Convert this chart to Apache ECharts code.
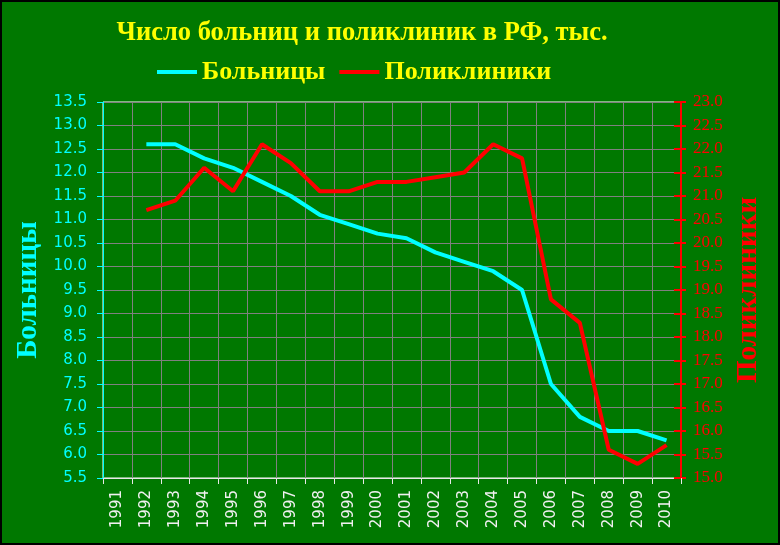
<!DOCTYPE html>
<html>
<head>
<meta charset="utf-8">
<script src="https://cdn.jsdelivr.net/npm/echarts@6/dist/echarts.min.js"></script>
<style>
html,body{margin:0;padding:0;background:#000;}
#c{position:absolute;left:0;top:0;width:780px;height:545px;box-sizing:border-box;border:2px solid #000;background:#007800;}
</style>
</head>
<body>
<div id="c"></div>
<script>
const years = ['1991','1992','1993','1994','1995','1996','1997','1998','1999','2000','2001','2002','2003','2004','2005','2006','2007','2008','2009','2010'];
const hospitals = [null,12.6,12.6,12.3,12.1,11.8,11.5,11.1,10.9,10.7,10.6,10.3,10.1,9.9,9.5,7.5,6.8,6.5,6.5,6.3];
const clinics = [null,20.7,20.9,21.6,21.1,22.1,21.7,21.1,21.1,21.3,21.3,21.4,21.5,22.1,21.8,18.8,18.3,15.6,15.3,15.7];
const titleText = 'Число больниц и поликлиник в РФ, тыс.';
const seriesNames = ['Больницы','Поликлиники'];

const chart = echarts.init(document.getElementById('c'));
chart.setOption({
  backgroundColor: '#007800',
  animation: false,
  title: {
    text: titleText,
    left: 355, top: 13, textAlign: 'center',
    textStyle: {color: '#ffff00', fontFamily: 'Liberation Serif', fontWeight: 'bold', fontSize: 26.5}
  },
  legend: {
    data: seriesNames,
    left: 150, top: 52,
    itemWidth: 40, itemHeight: 4, itemGap: 14, icon: 'rect',
    textStyle: {color: '#ffff00', fontFamily: 'Liberation Serif', fontWeight: 'bold', fontSize: 26}
  },
  grid: {left: 101, right: 97, top: 100, bottom: 65, show: true, borderColor: '#ffffff', borderWidth: 1, backgroundColor: 'transparent'},
  xAxis: {
    type: 'category', data: years, boundaryGap: true,
    axisLine: {lineStyle: {color: '#e8e8e8', width: 1}},
    axisTick: {show: true, length: 6, lineStyle: {color: '#e8e8e8'}},
    splitLine: {show: true, lineStyle: {color: '#808080', width: 1}},
    axisLabel: {rotate: 90, margin: 12, color: '#f0f0f0', fontFamily: 'DejaVu Sans', fontSize: 15, interval: 0}
  },
  yAxis: [
    {
      type: 'value', position: 'left', min: 5.5, max: 13.5, interval: 0.5,
      name: seriesNames[0], nameLocation: 'middle', nameGap: 59, nameRotate: 90,
      nameTextStyle: {color: '#00ffff', fontFamily: 'Liberation Serif', fontWeight: 'bold', fontSize: 29},
      axisLine: {show: true, lineStyle: {color: '#00ffff', width: 1}},
      axisTick: {show: true, length: 6, lineStyle: {color: '#00ffff'}},
      splitLine: {show: true, lineStyle: {color: '#808080', width: 1}},
      axisLabel: {margin: 16, color: '#00ffff', fontFamily: 'DejaVu Sans', fontSize: 15, formatter: v => v.toFixed(1)}
    },
    {
      type: 'value', position: 'right', min: 15, max: 23, interval: 0.5,
      name: seriesNames[1], nameLocation: 'middle', nameGap: 52, nameRotate: 90,
      nameTextStyle: {color: '#ff0000', fontFamily: 'Liberation Serif', fontWeight: 'bold', fontSize: 29},
      axisLine: {show: true, lineStyle: {color: '#ff0000', width: 2}},
      axisTick: {show: true, length: 5, lineStyle: {color: '#ff0000', width: 2}},
      splitLine: {show: false},
      axisLabel: {margin: 12, color: '#ff0000', fontFamily: 'Liberation Serif', fontSize: 17, formatter: v => v.toFixed(1)}
    },
    {
      type: 'value', position: 'right', min: 15, max: 23, interval: 0.5,
      axisLine: {show: false},
      axisTick: {show: true, inside: true, length: 7, lineStyle: {color: '#ff0000', width: 2}},
      splitLine: {show: false},
      axisLabel: {show: false}
    }
  ],
  series: [
    {name: seriesNames[0], type: 'line', yAxisIndex: 0, data: hospitals, showSymbol: false, symbol: 'none',
     color: '#00ffff', lineStyle: {color: '#00ffff', width: 4}},
    {name: seriesNames[1], type: 'line', yAxisIndex: 1, data: clinics, showSymbol: false, symbol: 'none',
     color: '#ff0000', lineStyle: {color: '#ff0000', width: 4}}
  ]
});
</script>
</body>
</html>
